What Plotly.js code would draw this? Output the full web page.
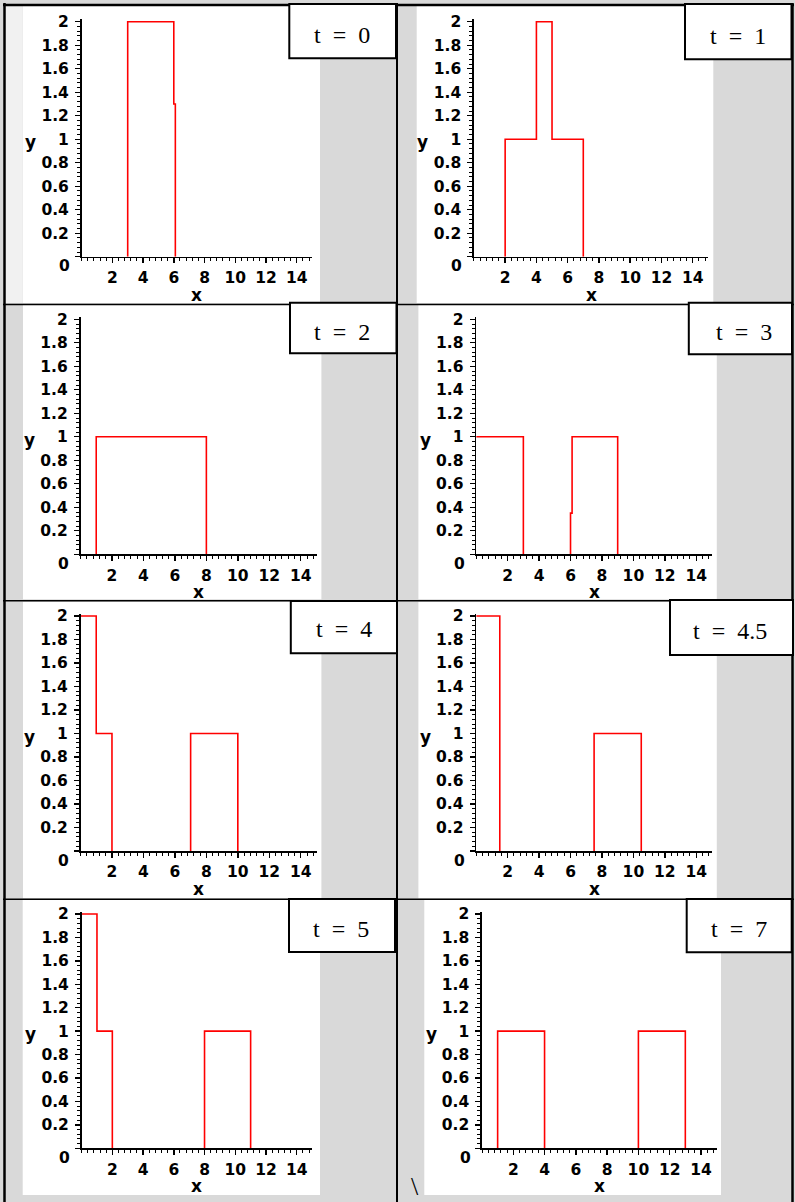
<!DOCTYPE html>
<html>
<head>
<meta charset="utf-8">
<script src="https://cdn.plot.ly/plotly-3.0.1.min.js"></script>
<style>html,body{margin:0;padding:0;background:#d9d9d9;overflow:hidden}</style>
</head>
<body>
<div id="chart" style="width:795px;height:1202px"></div>
<script>
// ---------------- data ----------------
const timeLabels = ['0', '1', '2', '3', '4', '4.5', '5', '7'];

// visible red segments of each profile (null separates pieces)
const x_t0   = [3, 3, 6, 6, 6.1, 6.1];
const y_t0   = [0, 2, 2, 1.3, 1.3, 0];
const x_t1   = [2, 2, 4, 4, 5, 5, 7, 7];
const y_t1   = [0, 1, 1, 2, 2, 1, 1, 0];
const x_t2   = [1, 1, 8, 8];
const y_t2   = [0, 1, 1, 0];
const x_t3   = [0, 3, 3, null, 6, 6, 6.1, 6.1, 9, 9];
const y_t3   = [1, 1, 0, null, 0, 0.35, 0.35, 1, 1, 0];
const x_t4   = [0, 1, 1, 2, 2, null, 7, 7, 10, 10];
const y_t4   = [2, 2, 1, 1, 0, null, 0, 1, 1, 0];
const x_t4_5 = [0, 1.5, 1.5, null, 7.5, 7.5, 10.5, 10.5];
const y_t4_5 = [2, 2, 0, null, 0, 1, 1, 0];
const x_t5   = [0, 1, 1, 2, 2, null, 8, 8, 11, 11];
const y_t5   = [2, 2, 1, 1, 0, null, 0, 1, 1, 0];
const x_t7   = [1, 1, 4, 4, null, 10, 10, 13, 13];
const y_t7   = [0, 1, 1, 0, null, 0, 1, 1, 0];

const seriesX = [x_t0, x_t1, x_t2, x_t3, x_t4, x_t4_5, x_t5, x_t7];
const seriesY = [y_t0, y_t1, y_t2, y_t3, y_t4, y_t4_5, y_t5, y_t7];

const xRange = [0, 15];
const yMax = 2;
const xTickVals = [2, 4, 6, 8, 10, 12, 14];
const xTickText = ['2', '4', '6', '8', '10', '12', '14'];
const yTickVals = [0, 0.2, 0.4, 0.6, 0.8, 1, 1.2, 1.4, 1.6, 1.8, 2];
const yTickText = ['', '0.2', '0.4', '0.6', '0.8', '1', '1.2', '1.4', '1.6', '1.8', '2'];

// ---------------- layout geometry (pixels) ----------------
const W = 795, H = 1202;
const px = v => v / W;
const py = v => 1 - v / H;

// plot boxes: L = x 0, R = x 15, B = y 0, T = y 2
const panels = [
  {L: 81.6,  R: 312.1, B: 256.7,  T: 21.7},
  {L: 473.9, R: 708.3, B: 256.7,  T: 21.7},
  {L: 80.5,  R: 316.5, B: 554.3,  T: 319.3},
  {L: 476.2, R: 712.0, B: 554.3,  T: 319.3},
  {L: 80.5,  R: 316.5, B: 851.0,  T: 616.0},
  {L: 476.2, R: 712.0, B: 851.0,  T: 616.0},
  {L: 81.6,  R: 312.1, B: 1148.3, T: 914.0},
  {L: 482.0, R: 716.6, B: 1148.3, T: 914.0}
];

const whiteRects = [
  [22.7, 5, 320, 303], [416.7, 5, 713.3, 303],
  [23, 305, 321.4, 599.3], [418.4, 305, 716.8, 599.3],
  [23, 601.7, 321.4, 898.3], [418.4, 601.7, 716.8, 898.3],
  [22.7, 900, 320, 1195], [424.3, 900, 721, 1195]
];

const boxes = [
  {x0: 289.3, x1: 396,   y0: 4,     y1: 58.3,  tx: 341.5, ty: 35.5},
  {x0: 685,   x1: 791.5, y0: 4,     y1: 59.3,  tx: 738.3, ty: 36},
  {x0: 290,   x1: 396.5, y0: 302.7, y1: 353.3, tx: 342,   ty: 331.7},
  {x0: 688.8, x1: 792,   y0: 302.7, y1: 354.3, tx: 743.6, ty: 331.7},
  {x0: 290.8, x1: 397,   y0: 601,   y1: 653.3, tx: 343.9, ty: 629.3},
  {x0: 670,   x1: 793,   y0: 600,   y1: 655,   tx: 729.5, ty: 630.5},
  {x0: 289,   x1: 395,   y0: 899,   y1: 952,   tx: 340.8, ty: 928.8},
  {x0: 686.7, x1: 791.7, y0: 899,   y1: 952.3, tx: 739.2, ty: 928.8}
];

const tickFont = {family: 'DejaVu Sans', size: 15.5, color: '#000', weight: 'bold'};
const labFont = {family: 'DejaVu Sans', size: 17, color: '#000', weight: 'bold'};
const tFont = {family: 'Liberation Serif, Times New Roman, serif', size: 24, color: '#000'};

const data = [];
const layout = {
  width: W, height: H,
  margin: {l: 0, r: 0, t: 0, b: 0},
  paper_bgcolor: '#d9d9d9',
  plot_bgcolor: 'rgba(0,0,0,0)',
  showlegend: false,
  shapes: [],
  annotations: []
};

const NB = '\u00a0\u00a0';

panels.forEach((p, i) => {
  const n = i === 0 ? '' : String(i + 1);
  const unitY = (p.B - p.T) / yMax;
  const yTop = 2.02;
  const topPx = p.B - yTop * unitY;
  layout['xaxis' + n] = {
    domain: [px(p.L), px(p.R)],
    range: xRange,
    anchor: 'y' + n,
    showline: true, linecolor: '#000', linewidth: 1.6,
    ticks: 'outside', ticklen: 5, tickwidth: 1.4, tickcolor: '#000',
    tickmode: 'array', tickvals: xTickVals, ticktext: xTickText,
    tickfont: tickFont, ticklabelstandoff: 1,
    minor: {tick0: 0, dtick: 0.4, ticks: 'outside', ticklen: 3, tickwidth: 1, tickcolor: '#000', showgrid: false},
    showgrid: false, zeroline: false, fixedrange: true
  };
  layout['yaxis' + n] = {
    domain: [py(p.B), py(topPx)],
    range: [0, yTop],
    anchor: 'x' + n,
    showline: true, linecolor: '#000', linewidth: 1.6,
    ticks: 'outside', ticklen: 5, tickwidth: 1.4, tickcolor: '#000',
    tickmode: 'array', tickvals: yTickVals, ticktext: yTickText,
    tickfont: tickFont, ticklabelstandoff: 3,
    minor: {tick0: 0, dtick: 0.04, ticks: 'outside', ticklen: 3, tickwidth: 1, tickcolor: '#000', showgrid: false},
    showgrid: false, zeroline: false, fixedrange: true
  };
  data.push({
    type: 'scatter', mode: 'lines',
    x: seriesX[i], y: seriesY[i],
    xaxis: 'x' + n, yaxis: 'y' + n,
    line: {color: '#ff0000', width: 1.6},
    connectgaps: false,
    hoverinfo: 'skip'
  });

  // origin "0" label
  layout.annotations.push({
    xref: 'paper', yref: 'paper', x: px(p.L - 9.5), y: py(p.B + 9.5),
    xanchor: 'right', yanchor: 'middle', showarrow: false,
    text: '0', font: tickFont
  });
  // y label (horizontal)
  layout.annotations.push({
    xref: 'paper', yref: 'paper', x: px(p.L - 51), y: py((p.B + p.T) / 2 + 3),
    xanchor: 'center', yanchor: 'middle', showarrow: false,
    text: 'y', font: labFont
  });
  // x label
  layout.annotations.push({
    xref: 'paper', yref: 'paper', x: px((p.L + p.R) / 2), y: py(p.B + 38),
    xanchor: 'center', yanchor: 'middle', showarrow: false,
    text: 'x', font: labFont
  });
});

// white plot images
whiteRects.forEach(r => {
  layout.shapes.push({
    type: 'rect', xref: 'paper', yref: 'paper', layer: 'below',
    x0: px(r[0]), x1: px(r[2]), y0: py(r[1]), y1: py(r[3]),
    fillcolor: '#ffffff', line: {width: 0}
  });
});
// lighter strip at the top-left of the page
layout.shapes.push({
  type: 'rect', xref: 'paper', yref: 'paper', layer: 'below',
  x0: px(5), x1: px(22.7), y0: py(5), y1: py(303),
  fillcolor: '#f1f1f1', line: {width: 0}
});

// table lines
const hLine = (y, x0, x1, w) => ({type: 'line', xref: 'paper', yref: 'paper', layer: 'above',
  x0: px(x0), x1: px(x1), y0: py(y), y1: py(y), line: {color: '#000', width: w}});
const vLine = (x, y0, y1, w) => ({type: 'line', xref: 'paper', yref: 'paper', layer: 'above',
  x0: px(x), x1: px(x), y0: py(y0), y1: py(y1), line: {color: '#000', width: w}});
layout.shapes.push(hLine(5, 3, 794, 2.5));
layout.shapes.push(vLine(4.5, 3, 1202, 2.5));
layout.shapes.push(vLine(792.5, 3, 1202, 2.5));
layout.shapes.push(vLine(397, 3, 1202, 2));
layout.shapes.push(hLine(304.5, 3, 794, 1.5));
layout.shapes.push(hLine(600.8, 3, 794, 1.5));
layout.shapes.push(hLine(899.3, 3, 794, 1.5));

// time boxes
boxes.forEach((b, i) => {
  layout.shapes.push({
    type: 'rect', xref: 'paper', yref: 'paper', layer: 'above',
    x0: px(b.x0), x1: px(b.x1), y0: py(b.y0), y1: py(b.y1),
    fillcolor: '#ffffff', line: {color: '#000', width: 2}
  });
  layout.annotations.push({
    xref: 'paper', yref: 'paper', x: px(b.tx), y: py(b.ty),
    xanchor: 'center', yanchor: 'middle', showarrow: false,
    text: 't' + NB + '=' + NB + timeLabels[i], font: tFont
  });
});

// stray backslash below the table
layout.annotations.push({
  xref: 'paper', yref: 'paper', x: px(415), y: py(1170),
  xanchor: 'center', yanchor: 'top', showarrow: false,
  text: '\\', font: {family: 'Liberation Serif, serif', size: 26, color: '#000'}
});

Plotly.newPlot('chart', data, layout, {staticPlot: true, displayModeBar: false});
</script>
</body>
</html>
